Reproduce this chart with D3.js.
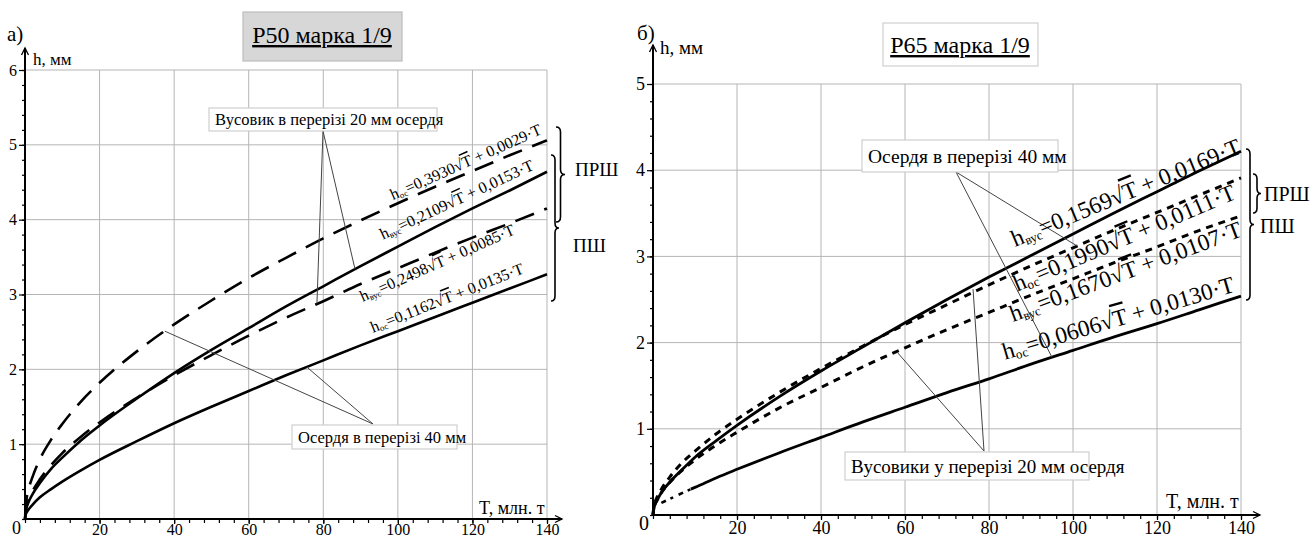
<!DOCTYPE html>
<html>
<head>
<meta charset="utf-8">
<script src="https://cdn.jsdelivr.net/npm/d3@7"></script>
<style>
  body { margin: 0; background: #fff; }
  svg { display: block; }
  svg text { font-family: "Liberation Serif", "Times New Roman", serif; }
</style>
</head>
<body>
<div id="main"></div>
<script>
const w = 1314, h = 537;
const serif = '"Liberation Serif", "Times New Roman", serif';

// T, млн. т
const tSteps = [0, 0.2, 1, 2, 4, 7, 10, 15, 20, 30, 40, 50, 60, 70, 80, 90, 100, 110, 120, 130, 140];

// а) Р50: h, мм
const r50OcPrsh  = [0, 0.18, 0.40, 0.56, 0.80, 1.06, 1.27, 1.57, 1.82, 2.24, 2.60, 2.92, 3.22, 3.49, 3.75, 3.99, 4.22, 4.44, 4.65, 4.86, 5.06];
const r50VusPrsh = [0, 0.10, 0.23, 0.33, 0.48, 0.67, 0.82, 1.05, 1.25, 1.61, 1.95, 2.26, 2.55, 2.84, 3.11, 3.38, 3.64, 3.90, 4.15, 4.39, 4.64];
const r50VusPsh  = [0, 0.11, 0.26, 0.37, 0.53, 0.72, 0.88, 1.10, 1.29, 1.62, 1.92, 2.19, 2.45, 2.69, 2.91, 3.14, 3.35, 3.56, 3.76, 3.95, 4.15];
const r50OcPsh   = [0, 0.06, 0.13, 0.19, 0.29, 0.40, 0.50, 0.65, 0.79, 1.04, 1.28, 1.50, 1.71, 1.92, 2.12, 2.32, 2.51, 2.70, 2.89, 3.08, 3.27];

// б) Р65: h, мм
const r65VusPsh  = [0, 0.07, 0.17, 0.26, 0.38, 0.53, 0.67, 0.86, 1.04, 1.37, 1.67, 1.95, 2.23, 2.50, 2.76, 3.01, 3.26, 3.51, 3.75, 3.99, 4.22];
const r65OcPrsh  = [0, 0.09, 0.21, 0.30, 0.44, 0.61, 0.74, 0.94, 1.11, 1.42, 1.70, 1.96, 2.21, 2.44, 2.67, 2.89, 3.10, 3.31, 3.51, 3.71, 3.91];
const r65VusPrsh = [0, 0.08, 0.18, 0.26, 0.38, 0.52, 0.64, 0.81, 0.96, 1.24, 1.48, 1.72, 1.94, 2.15, 2.35, 2.55, 2.74, 2.93, 3.11, 3.30, 3.47];
const r65OcPshT  = [9, 10, 15, 20, 30, 40, 50, 60, 70, 80, 90, 100, 110, 120, 130, 140];
const r65OcPsh   = [0.30, 0.32, 0.43, 0.53, 0.72, 0.90, 1.08, 1.25, 1.42, 1.58, 1.75, 1.91, 2.07, 2.22, 2.38, 2.54];
const r65OcPshStartT = [2, 5, 9];
const r65OcPshStart  = [0.14, 0.21, 0.30];

// tick labels
const xTicks = [20, 40, 60, 80, 100, 120, 140];
const yTicksR50 = [1, 2, 3, 4, 5, 6];
const yTicksR65 = [1, 2, 3, 4, 5];

// formula texts: [subscript, coef sqrt, coef T]
const r50Formulas = [['ос', '0,3930', '0,0029'], ['вус', '0,2109', '0,0153'], ['вус', '0,2498', '0,0085'], ['ос', '0,1162', '0,0135']];
const r65Formulas = [['вус', '0,1569', '0,0169'], ['ос', '0,1990', '0,0111'], ['вус', '0,1670', '0,0107'], ['ос', '0,0606', '0,0130']];

const svg = d3.select('#main')
  .append('svg')
  .attr('width', w)
  .attr('height', h)
  .style('font-family', serif);

const pairs = (ts, hs) => d3.zip(ts, hs);

function arrowHead(g, x, y, dir) {
  const p = dir === 'up'
    ? `M${x - 3.5},${y + 7} L${x},${y} L${x + 3.5},${y + 7}`
    : `M${x - 7},${y - 3.5} L${x},${y} L${x - 7},${y + 3.5}`;
  g.append('path').attr('d', p).attr('fill', 'none').attr('stroke', '#000').attr('stroke-width', 1.3);
}

function brace(g, x, y1, y2, bw) {
  const ym = (y1 + y2) / 2, q = bw / 2, r = 5;
  const d = `M${x},${y1} Q${x + q},${y1} ${x + q},${y1 + r} L${x + q},${ym - r} Q${x + q},${ym} ${x + bw},${ym}` +
            ` Q${x + q},${ym} ${x + q},${ym + r} L${x + q},${y2 - r} Q${x + q},${y2} ${x},${y2}`;
  g.append('path').attr('d', d).attr('fill', 'none').attr('stroke', '#000').attr('stroke-width', 1.6);
}

function formula(g, x, y, ang, f, size) {
  const t = g.append('text')
    .attr('transform', `translate(${x},${y}) rotate(${ang})`)
    .attr('font-size', size)
    .attr('fill', '#000');
  t.append('tspan').text('h');
  t.append('tspan').attr('font-size', size * 0.55).attr('dy', size * 0.12).text(f[0]);
  t.append('tspan').attr('dy', -size * 0.12).text('=' + f[1]);
  t.append('tspan').text('√');
  t.append('tspan').attr('text-decoration', 'overline').text('T');
  t.append('tspan').text(' + ' + f[2] + '·T');
}

function noteBox(g, x, y, bw, bh, txt, size, fill) {
  g.append('rect').attr('x', x).attr('y', y).attr('width', bw).attr('height', bh)
    .attr('fill', fill || '#fff').attr('stroke', '#cfcfcf').attr('stroke-width', 1.2);
  g.append('text').attr('x', x + 6).attr('y', y + bh / 2).attr('dy', '0.35em')
    .attr('font-size', size).text(txt);
}

function panel(cfg) {
  const xs = d3.scaleLinear().domain([0, 140]).range([cfg.x0, cfg.x1]);
  const ys = d3.scaleLinear().domain([0, cfg.yMax]).range([cfg.y0, cfg.y1]);
  const g = svg.append('g');

  // grid
  g.append('g').selectAll('line').data(xTicks).join('line')
    .attr('x1', d => xs(d)).attr('x2', d => xs(d))
    .attr('y1', ys(0)).attr('y2', ys(cfg.yMax))
    .attr('stroke', '#b5b5b5').attr('stroke-width', 1);
  g.append('g').selectAll('line').data(cfg.yTicks).join('line')
    .attr('x1', xs(0)).attr('x2', xs(140))
    .attr('y1', d => ys(d)).attr('y2', d => ys(d))
    .attr('stroke', '#b5b5b5').attr('stroke-width', 1);

  // axes
  const yMinor = d3.axisLeft(ys).tickValues(d3.range(0, cfg.yMax + 0.01, 0.2)).tickSize(3).tickFormat('');
  const yMajor = d3.axisLeft(ys).tickValues(cfg.yTicks).tickSize(6).tickPadding(2).tickFormat(d3.format('d'));
  const xMinor = d3.axisBottom(xs).tickValues(d3.range(0, 141, 4)).tickSize(4).tickFormat('');
  const xMajor = d3.axisBottom(xs).tickValues(xTicks).tickSize(5).tickPadding(cfg.xPad).tickFormat(d3.format('d'));

  const style = s => s
    .attr('font-family', null)
    .call(s => s.select('.domain').remove())
    .call(s => s.selectAll('text').attr('font-size', cfg.tickFont).attr('fill', '#000'))
    .call(s => s.selectAll('line').attr('stroke-width', 1.2));

  [yMinor, yMajor].forEach(a => {
    g.append('g').attr('transform', `translate(${xs(0)},0)`).call(a).call(style);
  });
  [xMinor, xMajor].forEach(a => {
    g.append('g').attr('transform', `translate(0,${ys(0)})`).call(a).call(style);
  });

  g.append('line').attr('x1', xs(0)).attr('x2', xs(0)).attr('y1', ys(0)).attr('y2', cfg.yArrow)
    .attr('stroke', '#000').attr('stroke-width', 2);
  g.append('line').attr('x1', xs(0)).attr('x2', cfg.xArrow).attr('y1', ys(0)).attr('y2', ys(0))
    .attr('stroke', '#000').attr('stroke-width', 2);
  arrowHead(g, xs(0), cfg.yArrow, 'up');
  arrowHead(g, cfg.xArrow, ys(0), 'right');

  g.append('text').attr('x', xs(0) - 4).attr('y', ys(0) + cfg.zeroDy).attr('text-anchor', 'end')
    .attr('font-size', cfg.tickFont + 2).text('0');

  // curves
  const line = d3.line().x(d => xs(d[0])).y(d => ys(d[1])).curve(d3.curveMonotoneX);
  cfg.series.forEach(s => {
    g.append('path').datum(s.data).attr('d', line)
      .attr('fill', 'none').attr('stroke', '#000')
      .attr('stroke-width', s.width)
      .attr('stroke-dasharray', s.dash || null)
      .attr('stroke-dashoffset', s.offset || 0);
  });

  return { g, xs, ys };
}

// ---------- а) Р50 ----------
const p1 = panel({
  x0: 25, x1: 547, y0: 519, y1: 70, yMax: 6, yTicks: yTicksR50,
  yArrow: 48, xArrow: 562, tickFont: 16, xPad: 0, zeroDy: 15,
  series: [
    { data: pairs(tSteps, r50OcPrsh), width: 2.6, dash: '20,11', offset: -4 },
    { data: pairs(tSteps, r50VusPrsh), width: 2.6 },
    { data: pairs(tSteps, r50VusPsh), width: 2.6, dash: '20,11' },
    { data: pairs(tSteps, r50OcPsh), width: 2.6 }
  ]
});

{
  const { g, xs, ys } = p1;
  g.append('text').attr('x', 7).attr('y', 41).attr('font-size', 21).text('а)');
  g.append('text').attr('x', 33).attr('y', 65).attr('font-size', 17).text('h, мм');
  g.append('text').attr('x', 479).attr('y', 514).attr('font-size', 18).text('T, млн. т');

  g.append('rect').attr('x', 243).attr('y', 12).attr('width', 159).attr('height', 49)
    .attr('fill', '#d7d7d7').attr('stroke', '#bdbdbd').attr('stroke-width', 1.2);
  g.append('text').attr('x', 322).attr('y', 43).attr('text-anchor', 'middle')
    .attr('font-size', 24).attr('text-decoration', 'underline').text('Р50 марка 1/9');

  // leaders
  const lead = (x, y, t, v) => g.append('line').attr('x1', x).attr('y1', y)
    .attr('x2', xs(t)).attr('y2', ys(v)).attr('stroke', '#444').attr('stroke-width', 1);
  lead(323, 131, 78.3, 2.88);
  lead(323, 131, 88.5, 3.34);
  lead(373, 424, 37.5, 2.51);
  lead(373, 424, 75.6, 2.03);

  noteBox(g, 209, 108, 228, 23, 'Вусовик в перерізі 20 мм осердя', 16.5);
  noteBox(g, 292, 425, 165, 24, 'Осердя в перерізі 40 мм', 16.5);

  formula(g, xs(98.7), ys(4.26), -24, r50Formulas[0], 16);
  formula(g, xs(96.0), ys(3.73), -25, r50Formulas[1], 16);
  formula(g, xs(90.6), ys(2.90), -24, r50Formulas[2], 16);
  formula(g, xs(93.3), ys(2.49), -21.5, r50Formulas[3], 16);

  brace(g, 556, 127, 222, 9);
  brace(g, 551, 155, 301, 8);
  g.append('text').attr('x', 575).attr('y', 176).attr('font-size', 19).text('ПРШ');
  g.append('text').attr('x', 573).attr('y', 252).attr('font-size', 19).text('ПШ');
}

// ---------- б) Р65 ----------
const p2 = panel({
  x0: 653, x1: 1241, y0: 515, y1: 84, yMax: 5, yTicks: yTicksR65,
  yArrow: 45, xArrow: 1260, tickFont: 18, xPad: 1, zeroDy: 15,
  series: [
    { data: pairs(tSteps, r65VusPsh), width: 2.8 },
    { data: pairs(tSteps, r65OcPrsh), width: 3, dash: '7,6' },
    { data: pairs(tSteps, r65VusPrsh), width: 3, dash: '7,6', offset: 3 },
    { data: pairs(r65OcPshStartT, r65OcPshStart), width: 2.6, dash: '5,5,3,6' },
    { data: pairs(r65OcPshT, r65OcPsh), width: 2.8 }
  ]
});

{
  const { g, xs, ys } = p2;
  g.append('text').attr('x', 637).attr('y', 40).attr('font-size', 21).text('б)');
  g.append('text').attr('x', 660).attr('y', 54).attr('font-size', 19).text('h, мм');
  g.append('text').attr('x', 1166).attr('y', 508).attr('font-size', 20).text('T, млн. т');

  g.append('rect').attr('x', 883).attr('y', 23).attr('width', 155).attr('height', 43)
    .attr('fill', '#fff').attr('stroke', '#cfcfcf').attr('stroke-width', 1.2);
  g.append('text').attr('x', 960).attr('y', 53).attr('text-anchor', 'middle')
    .attr('font-size', 24).attr('text-decoration', 'underline').text('Р65 марка 1/9');

  const lead = (x, y, t, v) => g.append('line').attr('x1', x).attr('y1', y)
    .attr('x2', xs(t)).attr('y2', ys(v)).attr('stroke', '#444').attr('stroke-width', 1);
  lead(956, 172, 101, 3.12);
  lead(956, 172, 95, 1.83);
  lead(984, 451, 58.1, 1.89);
  lead(984, 451, 76.2, 2.62);

  noteBox(g, 862, 140, 196, 32, 'Осердя в перерізі 40 мм', 19.5);
  noteBox(g, 845, 452, 244, 28, 'Вусовики у перерізі 20 мм осердя', 19);

  formula(g, xs(86.2), ys(3.11), -22.5, r65Formulas[0], 23.5);
  formula(g, xs(86.7), ys(2.59), -23, r65Formulas[1], 23.5);
  formula(g, xs(85.7), ys(2.24), -20.5, r65Formulas[2], 23.5);
  formula(g, xs(83.8), ys(1.80), -16.5, r65Formulas[3], 23.5);

  brace(g, 1253, 174, 213, 8);
  brace(g, 1246, 149, 300, 8);
  g.append('text').attr('x', 1264).attr('y', 201).attr('font-size', 20).text('ПРШ');
  g.append('text').attr('x', 1260).attr('y', 233).attr('font-size', 20).text('ПШ');
}
</script>
</body>
</html>
